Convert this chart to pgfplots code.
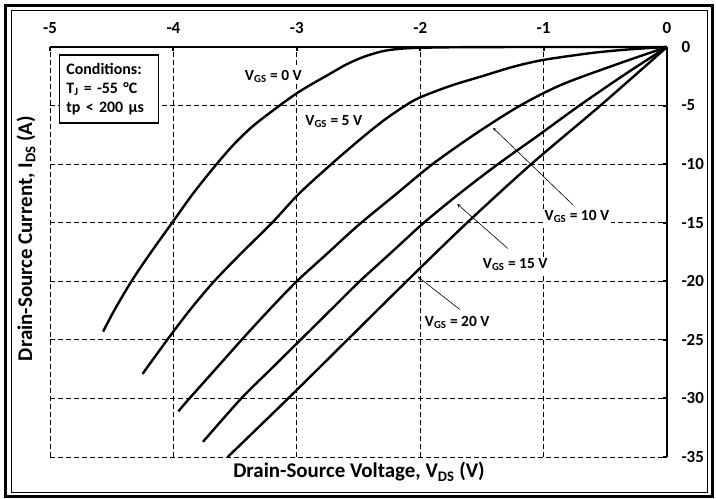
\documentclass[border=0pt]{standalone}
\usepackage{fontspec}
\setmainfont{Carlito}
\usepackage{pgfplots}
\pgfplotsset{compat=1.18}
\begin{document}
\begin{tikzpicture}[x=1bp,y=1bp]
\path (-50,-42) rectangle (666,457);
\draw[line width=2.5bp] (-44.5,-39.5) rectangle (662.5,451.5);
\draw[line width=0.8bp] (-39,-35.5) rectangle (657.5,447);
\begin{axis}[
  at={(0,0)}, anchor=south west,
  scale only axis, width=617bp, height=410bp,
  xmin=-5, xmax=0, ymin=-35, ymax=0,
  axis x line*=top, axis y line*=right,
  every outer x axis line/.append style={-},
  every outer y axis line/.append style={-},
  axis line style={-, line width=2.5bp, black},
  xtick={-5,-4,-3,-2,-1,0}, xticklabels={-5,-4,-3,-2,-1,0},
  ytick={-35,-30,-25,-20,-15,-10,-5,0}, yticklabels={-35,-30,-25,-20,-15,-10,-5,0},
  tick align=inside, major tick length=4bp,
  tick style={line width=2bp, black},
  xticklabel style={font=\fontsize{17}{20}\selectfont\bfseries, yshift=10bp},
  yticklabel style={font=\fontsize{17}{20}\selectfont\bfseries, xshift=11bp},
  grid=major,
  major grid style={line width=0.8bp, black, dash pattern=on 5bp off 3bp},
  clip=false,
]
\addplot[line width=2.4bp, smooth] coordinates {
(0,0) (-0.5,0) (-1,0) (-1.5,-0.01) (-1.8,-0.03) (-2.0,-0.07) (-2.15,-0.14) (-2.3,-0.35) (-2.46,-0.85) (-2.6,-1.5) (-2.75,-2.4) (-2.9,-3.3) (-3.0,-3.95) (-3.14,-5) (-3.35,-6.7) (-3.5,-8.2) (-3.65,-10) (-3.84,-12.5) (-4.01,-15) (-4.18,-17.5) (-4.34,-20) (-4.48,-22.5) (-4.57,-24.3)
};
\addplot[line width=2.4bp, smooth] coordinates {
(0,0) (-0.3,-0.2) (-0.6,-0.5) (-1.0,-1.1) (-1.25,-1.7) (-1.5,-2.5) (-1.75,-3.3) (-2.0,-4.3) (-2.12,-5) (-2.3,-6.3) (-2.5,-8.0) (-2.72,-10) (-2.98,-12.5) (-3.2,-15) (-3.44,-17.5) (-3.67,-20) (-3.87,-22.5) (-4.05,-25) (-4.25,-27.9)
};
\addplot[line width=2.4bp, smooth] coordinates {
(0,0) (-0.4,-1.45) (-0.85,-3.2) (-1.19,-5) (-1.55,-7.4) (-1.9,-10) (-2.2,-12.6) (-2.5,-15.2) (-2.75,-17.6) (-3.0,-20) (-3.22,-22.4) (-3.43,-24.8) (-3.65,-27.4) (-3.87,-30) (-3.96,-31.1)
};
\addplot[line width=2.4bp, smooth] coordinates {
(0,0) (-0.35,-2.4) (-0.71,-5) (-1.05,-7.6) (-1.37,-10) (-1.68,-12.5) (-1.97,-15) (-2.23,-17.5) (-2.49,-20) (-2.73,-22.5) (-2.97,-25) (-3.21,-27.5) (-3.45,-30) (-3.76,-33.7)
};
\addplot[line width=2.4bp, smooth] coordinates {
(0,0) (-0.54,-5) (-1.1,-10) (-1.62,-15) (-2.11,-20) (-2.59,-25) (-3.07,-30) (-3.56,-35)
};
\draw[line width=0.6bp, -stealth] (axis cs:-0.76,-13.5) -- (axis cs:-1.41,-6.9);
\draw[line width=0.6bp, -stealth] (axis cs:-1.29,-17.2) -- (axis cs:-1.70,-13.4);
\draw[line width=0.6bp, -stealth] (axis cs:-1.68,-22.4) -- (axis cs:-2.02,-19.6);
\tikzset{lbl/.style={fill=white, inner sep=2bp, font=\fontsize{15.5}{18}\selectfont\bfseries}}
\node[lbl] at (axis cs:-3.19,-2.5) {V\textsubscript{GS} = 0 V};
\node[lbl] at (axis cs:-2.70,-6.34) {V\textsubscript{GS} = 5 V};
\node[lbl] at (axis cs:-0.73,-14.5) {V\textsubscript{GS} = 10 V};
\node[lbl] at (axis cs:-1.23,-18.6) {V\textsubscript{GS} = 15 V};
\node[lbl] at (axis cs:-1.70,-23.5) {V\textsubscript{GS} = 20 V};
\node[draw, line width=1.5bp, fill=white, anchor=north west, align=left, text width=85bp, inner xsep=7bp, inner ysep=4bp, minimum height=68bp, font=\fontsize{16}{19}\selectfont\bfseries] at (axis cs:-4.93,-0.62) {Conditions:\\T\textsubscript{J} = -55 °C\\tp < 200 µs};
\end{axis}
\node[font=\fontsize{21}{24}\selectfont\bfseries] at (309,-15) {Drain-Source Voltage, V\textsubscript{DS} (V)};
\node[font=\fontsize{21}{24}\selectfont\bfseries, rotate=90] at (-24,218.5) {Drain-Source Current, I\textsubscript{DS} (A)};
\end{tikzpicture}
\end{document}
